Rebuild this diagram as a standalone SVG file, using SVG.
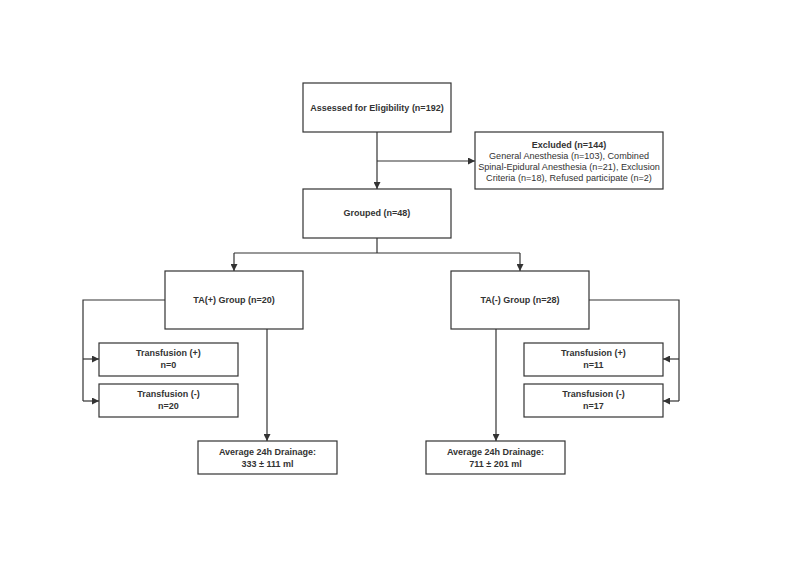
<svg xmlns="http://www.w3.org/2000/svg" width="800" height="566" viewBox="0 0 800 566">
<defs>
<marker id="arr" viewBox="0 0 10 10" refX="10" refY="5" markerWidth="7" markerHeight="7" markerUnits="userSpaceOnUse" orient="auto">
<path d="M0,0 L10,5 L0,10 z" fill="#333"/>
</marker>
<style>
rect{fill:#fff;stroke:#333;stroke-width:1.2}
text{font-family:"Liberation Sans",Arial,sans-serif;font-size:9px;fill:#333;text-anchor:middle}
.b{font-weight:bold}
.r{font-size:9.1px}
.c{fill:none;stroke:#333;stroke-width:1.2}
</style>
</defs>
<rect x="0" y="0" width="800" height="566" style="fill:#fff;stroke:none"/>
<g id="connectors">
<path class="c" d="M377,132 V189" marker-end="url(#arr)"/>
<path class="c" d="M377,161 H475" marker-end="url(#arr)"/>
<path class="c" d="M377,238 V253"/>
<path class="c" d="M234,253 H520"/>
<path class="c" d="M234,253 V271" marker-end="url(#arr)"/>
<path class="c" d="M520,253 V271" marker-end="url(#arr)"/>
<path class="c" d="M165,300 H83 V401"/>
<path class="c" d="M83,359 H99" marker-end="url(#arr)"/>
<path class="c" d="M83,401 H99" marker-end="url(#arr)"/>
<path class="c" d="M267,329 V441" marker-end="url(#arr)"/>
<path class="c" d="M589,300 H679 V401"/>
<path class="c" d="M679,359 H663" marker-end="url(#arr)"/>
<path class="c" d="M679,401 H663" marker-end="url(#arr)"/>
<path class="c" d="M496,329 V441" marker-end="url(#arr)"/>
</g>
<g id="assessed"><rect x="303" y="83" width="148" height="49"/><text class="b" x="377" y="111">Assessed for Eligibility (n=192)</text></g>
<g id="excluded"><rect x="475" y="132" width="188" height="57"/>
<text class="b" x="569" y="148">Excluded (n=144)</text>
<text class="r" x="569" y="159">General Anesthesia (n=103), Combined</text>
<text class="r" x="569" y="170">Spinal-Epidural Anesthesia (n=21), Exclusion</text>
<text class="r" x="569" y="181">Criteria (n=18), Refused participate (n=2)</text></g>
<g id="grouped"><rect x="303" y="189" width="148" height="49"/><text class="b" x="377" y="216">Grouped (n=48)</text></g>
<g id="ta-plus"><rect x="165" y="271" width="138" height="58"/><text class="b" x="234" y="303">TA(+) Group (n=20)</text></g>
<g id="ta-minus"><rect x="451" y="271" width="138" height="58"/><text class="b" x="520" y="303">TA(-) Group (n=28)</text></g>
<g id="tplus-left"><rect x="99" y="343" width="139" height="33"/><text class="b" x="168.5" y="356">Transfusion (+)</text><text class="b" x="168.5" y="368">n=0</text></g>
<g id="tminus-left"><rect x="99" y="384" width="139" height="33"/><text class="b" x="168.5" y="397">Transfusion (-)</text><text class="b" x="168.5" y="409">n=20</text></g>
<g id="tplus-right"><rect x="524" y="343" width="139" height="33"/><text class="b" x="593.5" y="356">Transfusion (+)</text><text class="b" x="593.5" y="368">n=11</text></g>
<g id="tminus-right"><rect x="524" y="384" width="139" height="33"/><text class="b" x="593.5" y="397">Transfusion (-)</text><text class="b" x="593.5" y="409">n=17</text></g>
<g id="avg-left"><rect x="198" y="441" width="139" height="33"/><text class="b" x="267.5" y="455">Average 24h Drainage:</text><text class="b" x="267.5" y="467">333 ± 111 ml</text></g>
<g id="avg-right"><rect x="426" y="441" width="139" height="33"/><text class="b" x="495.5" y="455">Average 24h Drainage:</text><text class="b" x="495.5" y="467">711 ± 201 ml</text></g>
</svg>
